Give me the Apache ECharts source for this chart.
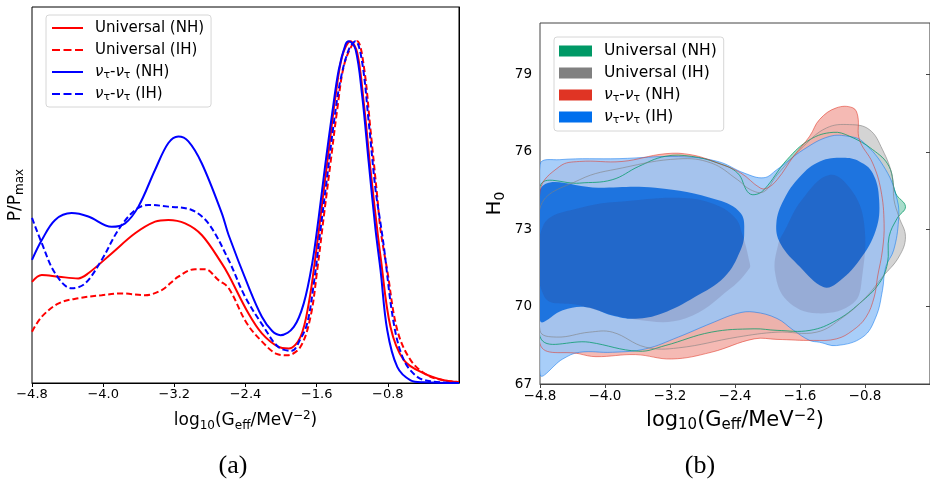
<!DOCTYPE html>
<html>
<head>
<meta charset="utf-8">
<script src="https://cdn.jsdelivr.net/npm/echarts@6/dist/echarts.min.js"></script>
<style>
  html, body { margin: 0; padding: 0; background: #fff; }
  #main { width: 930px; height: 481px; }
</style>
</head>
<body>
<div id="main"></div>
<script>
var dom = document.getElementById('main');
var myChart = echarts.init(dom, null, { renderer: 'canvas' });

var FONT = 'DejaVu Sans';
var xTicks = [-4.8, -4.0, -3.2, -2.4, -1.6, -0.8];
var h0Ticks = [67, 70, 73, 76, 79];

// (a) marginalised posteriors, [log10 Geff, P/Pmax]
var uniNH = [[-4.80,0.296],[-4.69,0.316],[-4.50,0.311],[-4.28,0.306],[-4.167,0.321],[-3.905,0.379],[-3.641,0.438],[-3.416,0.472],[-3.267,0.477],[-3.079,0.467],[-2.892,0.433],[-2.667,0.350],[-2.59,0.316],[-2.366,0.203],[-2.216,0.145],[-2.04,0.107],[-1.914,0.101],[-1.782,0.135],[-1.689,0.233],[-1.613,0.370],[-1.538,0.526],[-1.464,0.682],[-1.388,0.839],[-1.313,0.956],[-1.22,1.0],[-1.144,0.966],[-1.070,0.819],[-0.995,0.624],[-0.919,0.448],[-0.882,0.370],[-0.770,0.164],[-0.620,0.067],[-0.395,0.028],[-0.170,0.008],[0,0.003]];
var uniIH = [[-4.80,0.150],[-4.69,0.194],[-4.50,0.233],[-4.28,0.248],[-4.017,0.257],[-3.792,0.262],[-3.529,0.257],[-3.342,0.272],[-3.155,0.311],[-2.967,0.333],[-2.854,0.333],[-2.704,0.301],[-2.59,0.278],[-2.384,0.174],[-2.195,0.116],[-2.05,0.085],[-1.932,0.081],[-1.782,0.106],[-1.669,0.194],[-1.594,0.330],[-1.520,0.487],[-1.445,0.643],[-1.369,0.800],[-1.295,0.927],[-1.200,0.990],[-1.144,1.0],[-1.070,0.927],[-0.995,0.741],[-0.919,0.545],[-0.882,0.448],[-0.807,0.330],[-0.694,0.155],[-0.544,0.067],[-0.357,0.023],[-0.170,0.008],[0,0.003]];
var nuNH = [[-4.80,0.36],[-4.69,0.418],[-4.54,0.477],[-4.355,0.497],[-4.167,0.487],[-3.905,0.457],[-3.754,0.467],[-3.604,0.516],[-3.416,0.624],[-3.267,0.702],[-3.155,0.721],[-3.042,0.707],[-2.892,0.643],[-2.667,0.497],[-2.59,0.433],[-2.366,0.282],[-2.216,0.194],[-2.10,0.152],[-2.007,0.140],[-1.857,0.164],[-1.745,0.233],[-1.650,0.350],[-1.576,0.487],[-1.501,0.643],[-1.425,0.790],[-1.351,0.917],[-1.276,0.990],[-1.239,1.0],[-1.163,0.976],[-1.088,0.839],[-1.014,0.643],[-0.938,0.448],[-0.882,0.330],[-0.807,0.155],[-0.694,0.047],[-0.544,0.008],[-0.398,0.002],[0,0]];
var nuIH = [[-4.80,0.483],[-4.69,0.409],[-4.54,0.321],[-4.355,0.277],[-4.204,0.291],[-4.017,0.360],[-3.829,0.448],[-3.641,0.506],[-3.492,0.521],[-3.267,0.516],[-3.005,0.506],[-2.817,0.467],[-2.59,0.36],[-2.404,0.252],[-2.195,0.164],[-2.03,0.105],[-1.88,0.094],[-1.79,0.125],[-1.707,0.174],[-1.632,0.291],[-1.557,0.448],[-1.482,0.604],[-1.407,0.761],[-1.332,0.887],[-1.239,0.975],[-1.163,1.0],[-1.088,0.937],[-1.014,0.761],[-0.938,0.565],[-0.882,0.467],[-0.845,0.399],[-0.733,0.174],[-0.620,0.067],[-0.469,0.018],[-0.320,0.005],[0,0]];

// (b) contours, [log10 Geff, H0]
var uniNHOuter = [[-4.8,74.66],[-4.314,74.79],[-3.912,74.92],[-3.584,75.44],[-3.260,75.83],[-2.940,75.83],[-2.612,75.57],[-2.368,75.18],[-2.247,74.46],[-2.165,74.34],[-2.044,74.53],[-1.760,75.70],[-1.477,76.48],[-1.193,76.76],[-0.991,76.61],[-0.706,76.09],[-0.504,75.44],[-0.423,74.40],[-0.302,73.88],[-0.403,73.43],[-0.504,72.71],[-0.524,71.67],[-0.626,70.90],[-0.869,70.12],[-1.152,69.47],[-1.477,69.08],[-1.882,69.08],[-2.165,69.14],[-2.693,69.01],[-3.260,68.49],[-3.584,68.27],[-4.192,68.62],[-4.8,68.84]];
var uniIHOuter = [[-4.8,73.82],[-4.314,74.92],[-3.787,75.38],[-3.098,75.73],[-2.693,75.57],[-2.368,74.92],[-2.207,74.53],[-2.044,74.46],[-1.882,75.11],[-1.557,76.22],[-1.274,76.93],[-0.991,77.06],[-0.748,76.87],[-0.585,76.09],[-0.463,75.05],[-0.443,74.14],[-0.383,73.49],[-0.302,72.71],[-0.383,71.93],[-0.585,71.15],[-0.788,70.37],[-1.071,69.59],[-1.396,69.01],[-1.882,69.01],[-2.368,68.82],[-3.098,68.40],[-3.503,68.43],[-3.909,69.01],[-4.192,69.01],[-4.597,68.82],[-4.8,69.08]];
var nuNHOuter = [[-4.8,74.46],[-4.557,75.44],[-4.314,75.63],[-3.791,75.63],[-3.260,75.93],[-2.940,75.89],[-2.612,75.57],[-2.332,75.19],[-2.089,74.60],[-2.004,74.60],[-1.882,74.92],[-1.679,75.83],[-1.481,76.61],[-1.359,77.26],[-1.152,77.71],[-0.950,77.71],[-0.889,77.39],[-0.869,76.48],[-0.706,75.57],[-0.605,74.53],[-0.565,73.23],[-0.585,72.19],[-0.646,71.15],[-0.687,70.37],[-0.788,69.59],[-0.950,69.08],[-1.152,68.75],[-1.436,68.69],[-1.882,68.73],[-2.165,68.75],[-2.693,68.23],[-3.179,67.97],[-3.624,68.14],[-4.111,68.06],[-4.314,68.17],[-4.8,68.56]];
var nuIHOuter = [[-4.8,75.50],[-4.557,75.70],[-3.827,75.74],[-3.098,75.82],[-2.612,75.63],[-2.287,75.18],[-2.044,75.00],[-1.886,75.31],[-1.557,76.09],[-1.238,76.60],[-0.994,76.60],[-0.828,76.40],[-0.545,75.31],[-0.403,74.14],[-0.387,73.36],[-0.447,72.19],[-0.545,71.54],[-0.585,70.63],[-0.667,69.59],[-0.828,68.82],[-1.152,68.49],[-1.359,68.62],[-1.481,68.69],[-1.679,69.08],[-1.882,69.54],[-2.165,69.79],[-2.368,69.74],[-2.697,69.35],[-3.098,68.82],[-3.503,68.36],[-3.909,68.23],[-4.314,68.23],[-4.520,67.97],[-4.8,67.39]];
var nuIHInnerL = [[-4.8,74.53],[-4.071,74.61],[-3.381,74.61],[-2.612,74.14],[-2.332,73.63],[-2.287,72.86],[-2.332,72.19],[-2.530,71.15],[-2.895,70.37],[-3.301,69.73],[-3.624,69.53],[-3.912,69.66],[-4.232,69.98],[-4.520,69.86],[-4.8,69.47]];
var nuIHInnerR = [[-1.071,75.77],[-1.356,75.63],[-1.599,75.05],[-1.801,74.14],[-1.891,73.23],[-1.842,72.45],[-1.599,71.54],[-1.314,70.76],[-1.152,70.90],[-0.869,71.80],[-0.666,72.97],[-0.626,74.14],[-0.706,75.18],[-0.869,75.63]];
var nuNHInnerL = [[-4.764,73.12],[-4.314,73.83],[-3.584,74.14],[-3.098,74.22],[-2.697,74.02],[-2.405,73.47],[-2.308,72.78],[-2.222,71.73],[-2.222,71.49],[-2.453,70.71],[-3.013,69.54],[-3.621,69.50],[-4.314,70.05],[-4.75,70.4]];
var nuNHInnerR = [[-1.238,75.11],[-0.970,74.53],[-0.812,73.25],[-0.836,71.14],[-0.946,70.13],[-1.396,69.74],[-1.760,70.24],[-1.906,71.30],[-1.870,72.39],[-1.785,72.97],[-1.578,74.14]];

var legendLabels = {
  a1: 'Universal (NH)',
  a2: 'Universal (IH)',
  a3: '{nu|ν}{sub|τ}-{nu|ν}{sub|τ} (NH)',
  a4: '{nu|ν}{sub|τ}-{nu|ν}{sub|τ} (IH)',
  b1: 'Universal (NH)',
  b2: 'Universal (IH)',
  b3: '{nu|ν}{sub|τ}-{nu|ν}{sub|τ} (NH)',
  b4: '{nu|ν}{sub|τ}-{nu|ν}{sub|τ} (IH)'
};
var solidIcon = 'path://M0,0H31V2H0Z';
var dashIcon = 'path://M0,0h8v2h-8z M11.5,0h8v2h-8z M23,0h8v2h-8z';

function richFor(size) {
  return {
    nu: { fontFamily: FONT, fontStyle: 'italic', fontSize: size, color: '#000' },
    sub: { fontFamily: FONT, fontSize: Math.round(size * 0.7), lineHeight: 8, verticalAlign: 'bottom', color: '#000' },
    sup: { fontFamily: FONT, fontSize: Math.round(size * 0.7), lineHeight: 8, verticalAlign: 'top', color: '#000' }
  };
}

function tickFmt(v) {
  return v.toFixed(1).replace('-', '\u2212');
}

function lineSeries(name, data, color, dashed) {
  return {
    name: name,
    type: 'line',
    xAxisIndex: 0,
    yAxisIndex: 0,
    data: data,
    smooth: 0.35,
    symbol: 'none',
    lineStyle: { color: color, width: 2, type: dashed ? [6, 3] : 'solid' },
    itemStyle: { color: color }
  };
}

// one closed contour, drawn through the axes of panel (b)
function contourSeries(name, pts, fill, stroke, color) {
  return {
    name: name,
    type: 'custom',
    xAxisIndex: 1,
    yAxisIndex: 1,
    clip: true,
    silent: true,
    data: [pts[0]],
    itemStyle: { color: color || fill },
    renderItem: function (params, api) {
      var points = pts.map(function (p) { return api.coord(p); });
      return {
        type: 'polygon',
        shape: { points: points, smooth: 0.4 },
        style: {
          fill: fill || 'none',
          stroke: stroke || 'none',
          lineWidth: stroke ? 1 : 0
        }
      };
    }
  };
}

var legendBase = {
  orient: 'vertical',
  borderColor: '#d6d6d6',
  borderWidth: 1,
  borderRadius: 3,
  backgroundColor: 'rgba(255,255,255,0.8)',
  selectedMode: false,
  formatter: function (name) { return legendLabels[name]; }
};

var option = {
  animation: false,
  textStyle: { fontFamily: FONT },
  grid: [
    { left: 32, top: 7, width: 427, height: 376, show: true, borderColor: '#000', borderWidth: 1 },
    { left: 540, top: 23, width: 395, height: 361, show: true, borderColor: '#444', borderWidth: 1 }
  ],
  legend: [
    Object.assign({}, legendBase, {
      data: [
        { name: 'a1', icon: solidIcon },
        { name: 'a2', icon: dashIcon },
        { name: 'a3', icon: solidIcon },
        { name: 'a4', icon: dashIcon }
      ],
      left: 46, top: 15,
      itemWidth: 31, itemHeight: 2, itemGap: 4,
      padding: [4, 7, 4, 6],
      textStyle: { fontFamily: FONT, fontSize: 15, color: '#000', lineHeight: 18, padding: [0, 0, 0, 7], rich: richFor(15) }
    }),
    Object.assign({}, legendBase, {
      data: [
        { name: 'b1', icon: 'rect', itemStyle: { color: '#009966' } },
        { name: 'b2', icon: 'rect', itemStyle: { color: '#808080' } },
        { name: 'b3', icon: 'rect', itemStyle: { color: '#E03424' } },
        { name: 'b4', icon: 'rect', itemStyle: { color: '#006FED' } }
      ],
      left: 554, top: 37,
      itemWidth: 33, itemHeight: 11, itemGap: 4,
      padding: [5, 7, 5, 5],
      textStyle: { fontFamily: FONT, fontSize: 15.5, color: '#000', lineHeight: 18, padding: [0, 0, 0, 7], rich: richFor(15.5) }
    })
  ],
  xAxis: [
    {
      gridIndex: 0, type: 'value', min: -4.8, max: 0,
      name: 'log{sub|10}(G{sub|eff}/MeV{sup|\u22122})',
      nameLocation: 'middle', nameGap: 27,
      nameTextStyle: { fontFamily: FONT, fontSize: 17, color: '#000', lineHeight: 22, rich: richFor(17) },
      axisLine: { lineStyle: { color: '#000', width: 1 } },
      axisTick: { length: 4, lineStyle: { color: '#000' }, customValues: xTicks },
      axisLabel: { fontSize: 13, color: '#000', margin: 5, formatter: tickFmt, customValues: xTicks },
      splitLine: { show: false }
    },
    {
      gridIndex: 1, type: 'value', min: -4.8, max: 0,
      name: 'log{sub|10}(G{sub|eff}/MeV{sup|\u22122})',
      nameLocation: 'middle', nameGap: 25,
      nameTextStyle: { fontFamily: FONT, fontSize: 21, color: '#000', lineHeight: 24, rich: richFor(21) },
      axisLine: { lineStyle: { color: '#444', width: 1.2 } },
      axisTick: { length: 4, lineStyle: { color: '#444' }, customValues: xTicks },
      axisLabel: { fontSize: 13.5, color: '#000', margin: 5, formatter: tickFmt, customValues: xTicks },
      splitLine: { show: false }
    }
  ],
  yAxis: [
    {
      gridIndex: 0, type: 'value', min: 0, max: 1.1,
      name: 'P/P{sub|max}',
      nameLocation: 'middle', nameRotate: 90, nameGap: 6,
      nameTextStyle: { fontFamily: FONT, fontSize: 17, color: '#000', lineHeight: 20, rich: richFor(17) },
      axisLine: { lineStyle: { color: '#000', width: 1 } },
      axisTick: { show: false },
      axisLabel: { show: false },
      splitLine: { show: false }
    },
    {
      gridIndex: 1, type: 'value', min: 67, max: 81,
      name: 'H{sub|0}',
      nameLocation: 'middle', nameRotate: 90, nameGap: 33,
      nameTextStyle: { fontFamily: FONT, fontSize: 20, color: '#000', lineHeight: 24, rich: richFor(20) },
      axisLine: { lineStyle: { color: '#444', width: 1.2 } },
      axisTick: { length: 4, lineStyle: { color: '#444' }, customValues: h0Ticks },
      axisLabel: { fontSize: 13.5, color: '#000', margin: 8, customValues: h0Ticks },
      splitLine: { show: false }
    }
  ],
  series: [
    lineSeries('a1', uniNH, '#ff0000', false),
    lineSeries('a2', uniIH, '#ff0000', true),
    lineSeries('a3', nuNH, '#0000ff', false),
    lineSeries('a4', nuIH, '#0000ff', true),

    contourSeries('b1', uniNHOuter, 'rgba(153,214,194,0.85)', null, '#009966'),
    contourSeries('b2', uniIHOuter, 'rgba(204,204,204,0.85)', null, '#808080'),
    contourSeries('b3', nuNHOuter, 'rgba(243,174,167,0.85)', null, '#E03424'),
    contourSeries('b4', nuIHOuter, 'rgba(153,197,248,0.85)', 'rgba(0,111,237,0.5)', '#006FED'),
    contourSeries('b4 inner L', nuIHInnerL, 'rgba(10,105,220,0.87)'),
    contourSeries('b4 inner R', nuIHInnerR, 'rgba(10,105,220,0.87)'),
    contourSeries('b3 inner L', nuNHInnerL, 'rgba(60,20,60,0.13)'),
    contourSeries('b3 inner R', nuNHInnerR, 'rgba(60,20,60,0.13)'),
    contourSeries('b1 edge', uniNHOuter, null, 'rgba(0,153,102,0.75)'),
    contourSeries('b2 edge', uniIHOuter, null, 'rgba(128,128,128,0.6)'),
    contourSeries('b3 edge', nuNHOuter, null, 'rgba(224,52,36,0.55)')
  ],
  graphic: [
    { type: 'text', x: 233, y: 466, style: { text: '(a)', font: '26px "Liberation Serif"', fill: '#000', align: 'center', verticalAlign: 'middle' } },
    { type: 'text', x: 700, y: 466, style: { text: '(b)', font: '26px "Liberation Serif"', fill: '#000', align: 'center', verticalAlign: 'middle' } }
  ]
};

if (option && typeof option === 'object') {
  myChart.setOption(option);
}

window.addEventListener('resize', myChart.resize);
</script>
</body>
</html>
